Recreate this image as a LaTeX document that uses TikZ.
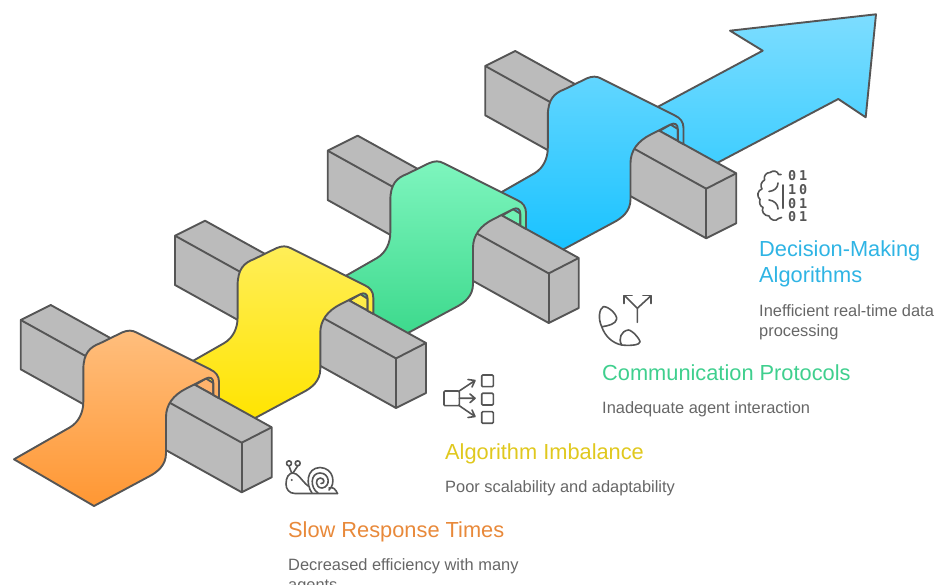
\documentclass[tikz,border=0pt]{standalone}
\usepackage{fontspec}
\setmainfont{Liberation Sans}
\newfontfamily\digitfont{DejaVu Sans Mono}
\usetikzlibrary{arrows.meta}
\definecolor{edgeC}{HTML}{555555}
\definecolor{boxC}{HTML}{BBBBBB}
\definecolor{oT}{HTML}{FFBE7D}\definecolor{oB}{HTML}{FF9733}\definecolor{oH}{HTML}{FFB26C}
\definecolor{yT}{HTML}{FFEE58}\definecolor{yB}{HTML}{FFE400}\definecolor{yH}{HTML}{FFEC4A}
\definecolor{gT}{HTML}{7EF5BE}\definecolor{gB}{HTML}{3CD98C}\definecolor{gH}{HTML}{70F0B4}
\definecolor{bT}{HTML}{62D6FF}\definecolor{bB}{HTML}{18C2FF}\definecolor{bH}{HTML}{52D2FF}
\definecolor{aT}{HTML}{7DDDFF}\definecolor{aB}{HTML}{3CCDFF}
\definecolor{tO}{HTML}{E8893A}\definecolor{tY}{HTML}{E0C81E}\definecolor{tG}{HTML}{3FCF8E}\definecolor{tB}{HTML}{2FB4E4}
\definecolor{bodyC}{HTML}{666666}
\tikzset{
  outline/.style={draw=edgeC,line width=1.9pt,line join=round},
  solidbox/.style={outline,fill=boxC},
  icon/.style={draw=edgeC,line width=1.6pt,line join=round,line cap=round},
  heading/.style={anchor=base west,inner sep=0pt,font=\fontsize{21.8}{24}\selectfont},
  bodytext/.style={anchor=base west,inner sep=0pt,text=bodyC,font=\fontsize{16.4}{19}\selectfont},
  digits/.style={anchor=base west,inner sep=0pt,text=edgeC,font=\digitfont\bfseries\fontsize{13.5}{15}\selectfont},
}
\newcommand{\bridge}[5]{%
\begin{scope}[shift={(#1,#2)}]
  % opening under the ribbon
  \path[outline,fill=#5] (195,385) -- (206,378.5) -- (213.3,383) -- (213.3,395) -- cycle;
  % beam
  \path[solidbox] (20.7,320) -- (50.7,305) -- (271.7,427.3) -- (271.7,477.3) -- (241.7,492.3) -- (20.7,369.3) -- cycle;
  \path[outline] (20.7,320) -- (241.7,442.7) -- (271.7,427.3);
  \path[outline] (241.7,442.7) -- (241.7,492.3);
  % ribbon
  \path[outline,top color=#3,bottom color=#4]
    (14,459.3) -- (70,427.3)
    .. controls (79,422) and (83.3,412) .. (83.3,402) -- (83.3,370)
    .. controls (83.3,353) and (90,347) .. (100,343.3) -- (122,332.5)
    .. controls (128,330) and (132,330) .. (137,332.7) -- (210,369.3)
    .. controls (216,372) and (219,376) .. (219,382) -- (219,398.2)
    -- (213.3,395) -- (213.3,383)
    .. controls (213.3,378) and (210,376.5) .. (206,378.5) -- (186.7,388.3)
    .. controls (173,395) and (166,405) .. (166,417) -- (166,453.3)
    .. controls (166,465) and (158,472) .. (148,477) -- (94,506) -- cycle;
\end{scope}}
\begin{document}
\begin{tikzpicture}[x=1pt,y=-1pt]
\useasboundingbox (0,0) rectangle (935,585);
% arrow
\path[outline,top color=aT,bottom color=aB] (650,111) -- (762.7,50.7) -- (730,30.7) -- (876,14.3) -- (865.7,117.3) -- (838.3,99) -- (700,172) -- cycle;
\bridge{464.5}{-254}{bT}{bB}{bH}
\bridge{307}{-169.3}{gT}{gB}{gH}
\bridge{154.3}{-84.3}{yT}{yB}{yH}
\bridge{0}{0}{oT}{oB}{oH}
% snail icon
\draw[icon] (337.5,493.5) -- (295,493.5) .. controls (289,493.5) and (286,489) .. (286,484)
  .. controls (286,477) and (289,473) .. (293,473) .. controls (298,473) and (301,480) .. (308,486);
\draw[icon] (291.7,473) -- (289,466) (293,473) -- (297.7,466);
\draw[icon] (289,463.3) circle (2.5);
\draw[icon] (297.7,463.3) circle (2.5);
\fill[edgeC] (291.7,480) circle (1.1);
\draw[icon] (312,493) .. controls (306,485) and (306,468) .. (320,467.5) .. controls (334,468) and (336,484) .. (329,490);
\draw[icon] (318,493) .. controls (310,488) and (310,473) .. (320,473) .. controls (330,473) and (331,487) .. (322,488)
  .. controls (315,488) and (315,478) .. (320,478) .. controls (325,478) and (325,484) .. (321,483.5);
\draw[icon] (329,488) .. controls (333,486) and (336,490) .. (337.5,493.5);
% flow icon
\draw[icon,rounded corners=1pt] (444,391) rectangle (459.3,405.7);
\draw[icon,rounded corners=1pt] (481.7,375) rectangle (493.3,386.7);
\draw[icon,rounded corners=1pt] (481.7,393.3) rectangle (493.3,405);
\draw[icon,rounded corners=1pt] (481.7,411.7) rectangle (493.3,423.3);
\draw[icon] (459.3,391) -- (475,380.5) (468,379.5) -- (475,380.5) -- (472,387);
\draw[icon] (459.3,398.3) -- (475,398.3) (470,394) -- (475,398.3) -- (470,402.6);
\draw[icon] (459.3,405.7) -- (475,416.5) (468,417.5) -- (475,416.5) -- (472,410);
% split and phone icon
\draw[icon] (637.3,322.3) -- (637.3,308.3) -- (625,296) (637.3,308.3) -- (650.7,296);
\draw[icon] (624,303.5) -- (624,295.5) -- (632,295.5) (643,295.5) -- (651,295.5) -- (651,303.5);
\draw[icon] (601.7,326.7) .. controls (598,319) and (599,309) .. (603.3,306.7) .. controls (608,306) and (617,314) .. (616.7,319)
  .. controls (616,324) and (608,326) .. (601.7,326.7) .. controls (605,336) and (612,343) .. (621.7,345);
\draw[icon] (621.7,345) .. controls (618,339) and (621,331) .. (628.3,330) .. controls (632,330) and (640,339) .. (640,342)
  .. controls (640,345) and (630,346) .. (621.7,345);
% brain and digits icon
\draw[icon] (781,174.5) -- (778.5,174.5) .. controls (778,171) and (773,170) .. (770,172.5) .. controls (766,172.5) and (763.5,176) .. (764.5,180)
  .. controls (761,182) and (760,186) .. (762,189) .. controls (758,190) and (756,196) .. (760,199.5)
  .. controls (759,203) and (760,206) .. (763,207.5) .. controls (761,211) and (764,216) .. (769,216)
  .. controls (770,220) and (776,222) .. (778.5,218.5) -- (781.5,217.5);
\draw[icon] (778,183) .. controls (778,188) and (774,191) .. (769,191.5);
\draw[icon] (769,200) .. controls (774,200.5) and (778,204) .. (778,209);
\draw[icon] (782.7,185) -- (782.7,208.3);
\node[digits] (d1) at (788,180.5) {\makebox[11pt][l]{0}\makebox[10pt][l]{1}};
\node[digits] (d2) at (788,195) {\makebox[11pt][l]{1}\makebox[10pt][l]{0}};
\node[digits] (d3) at (788,208.5) {\makebox[11pt][l]{0}\makebox[10pt][l]{1}};
\node[digits] (d4) at (788,222) {\makebox[11pt][l]{0}\makebox[10pt][l]{1}};
% texts
\node[heading,text=tO] (t1) at (288,537) {Slow Response Times};
\node[bodytext] (b1) at (288,570.5) {Decreased efficiency with many};
\node[bodytext] (b1b) at (288,590.5) {agents};
\node[heading,text=tY] (t2) at (445,459) {Algorithm Imbalance};
\node[bodytext] (b2) at (445,492.5) {Poor scalability and adaptability};
\node[heading,text=tG] (t3) at (602,381) {Communication Protocols};
\node[bodytext] (b3) at (602,413.5) {Inadequate agent interaction};
\node[heading,text=tB] (t4) at (759,257) {Decision-Making};
\node[heading,text=tB] (t4b) at (759,283) {Algorithms};
\node[bodytext] (b4) at (759,316.5) {Inefficient real-time data};
\node[bodytext] (b4b) at (759,336.5) {processing};
\end{tikzpicture}
\end{document}
